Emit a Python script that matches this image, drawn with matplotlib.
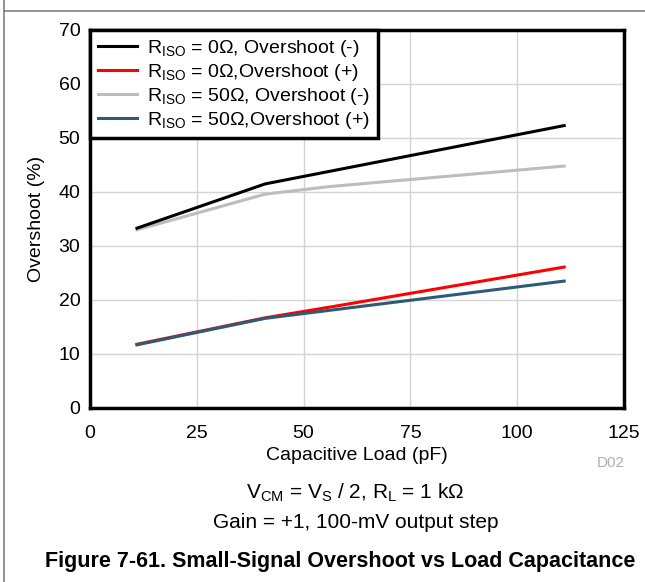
import matplotlib
matplotlib.use('Agg')
import matplotlib.pyplot as plt
from matplotlib.lines import Line2D

plt.rcParams['font.family'] = ['Liberation Sans', 'DejaVu Sans']
plt.rcParams['mathtext.fontset'] = 'custom'
plt.rcParams['mathtext.rm'] = 'Liberation Sans'
plt.rcParams['mathtext.it'] = 'Liberation Sans'

# 数据
load_neg0 = [11, 41, 111]
os_neg0 = [33.3, 41.5, 52.3]
load_pos0 = [11, 41, 57, 111]
os_pos0 = [11.8, 16.7, 18.8, 26.1]
load_neg50 = [11, 41, 56, 111]
os_neg50 = [33.0, 39.6, 41.0, 44.8]
load_pos50 = [11, 41, 111]
os_pos50 = [11.7, 16.6, 23.5]

labels = [r'R$_{\mathrm{ISO}}$ = 0Ω, Overshoot (-)',
          r'R$_{\mathrm{ISO}}$ = 0Ω,Overshoot (+)',
          r'R$_{\mathrm{ISO}}$ = 50Ω, Overshoot (-)',
          r'R$_{\mathrm{ISO}}$ = 50Ω,Overshoot (+)']
colors = ['#000000', '#ff0000', '#bdbdbd', '#2d5a75']

fig = plt.figure(figsize=(6.45, 5.82), dpi=100)
ax = fig.add_axes([90/645, 1-408/582, 534/645, 378/582])

ax.plot(load_neg0, os_neg0, color=colors[0], lw=2.2, label=labels[0], zorder=3)
ax.plot(load_pos0, os_pos0, color=colors[1], lw=2.2, label=labels[1], zorder=3)
ax.plot(load_neg50, os_neg50, color=colors[2], lw=2.2, label=labels[2], zorder=2)
ax.plot(load_pos50, os_pos50, color=colors[3], lw=2.2, label=labels[3], zorder=4)

ax.set_xlim(0, 125)
ax.set_ylim(0, 70)
ax.set_xticks([0, 25, 50, 75, 100, 125])
ax.set_yticks(range(0, 71, 10))
ax.grid(True, color='#d4d4d4', lw=1)
ax.set_axisbelow(True)
for s in ax.spines.values():
    s.set_linewidth(2.5)
ax.tick_params(length=0, labelsize=14)
ax.tick_params(axis='x', pad=12)
ax.tick_params(axis='y', pad=7)
ax.set_xlabel('Capacitive Load (pF)', fontsize=14, labelpad=4)
ax.set_ylabel('Overshoot (%)', fontsize=14, labelpad=10)

leg = ax.legend(loc='upper left', fontsize=14, frameon=True, fancybox=False,
                borderaxespad=0, handlelength=2.0, labelspacing=0.15,
                borderpad=0.4, handletextpad=0.55)
leg.get_frame().set_edgecolor('black')
leg.get_frame().set_linewidth(2.5)
leg.get_frame().set_alpha(1)

fig.text(625/645, 1-463/582, 'D02', color='#b0b0b0', fontsize=11,
         ha='right', va='center')
fig.text(355/645, 1-493/582, r'V$_{\mathrm{CM}}$ = V$_{\mathrm{S}}$ / 2, R$_{\mathrm{L}}$ = 1 kΩ',
         fontsize=15, ha='center', va='center')
fig.text(356/645, 1-523/582, 'Gain = +1, 100-mV output step',
         fontsize=15, ha='center', va='center')
fig.text(340/645, 1-562/582, 'Figure 7-61. Small-Signal Overshoot vs Load Capacitance',
         fontsize=15.5, fontweight='bold', ha='center', va='center')

# 外框
fig.add_artist(Line2D([4/645, 1], [1-11/582, 1-11/582], color='#808080', lw=1.2))
fig.add_artist(Line2D([4/645, 4/645], [0, 1], color='#808080', lw=1.2))

fig.savefig('out.png', dpi=100)
